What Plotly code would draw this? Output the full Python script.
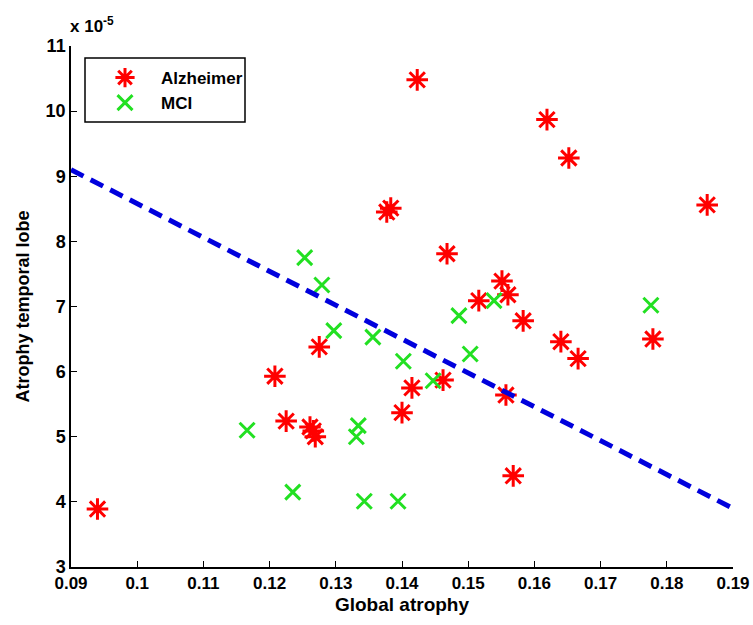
import plotly.graph_objects as go

# values of y in units of 1e-5
alz_x = [0.0940, 0.1423, 0.1619, 0.1652, 0.1861, 0.1377, 0.1383, 0.1468, 0.1551, 0.1560,
         0.1516, 0.1583, 0.1640, 0.1666, 0.1779, 0.1275, 0.1208, 0.1462, 0.1415, 0.1557,
         0.1400, 0.1225, 0.1261, 0.1266, 0.1269, 0.1568]
alz_y = [3.89, 10.48, 9.87, 9.28, 8.56, 8.45, 8.51, 7.81, 7.39, 7.18,
         7.09, 6.78, 6.46, 6.20, 6.50, 6.38, 5.93, 5.87, 5.75, 5.64,
         5.37, 5.24, 5.15, 5.09, 5.00, 4.40]
mci_x = [0.1166, 0.1235, 0.1334, 0.1331, 0.1343, 0.1297, 0.1279, 0.1253, 0.1356, 0.1486,
         0.1539, 0.1402, 0.1447, 0.1503, 0.1776, 0.1394]
mci_y = [5.10, 4.15, 5.17, 5.00, 4.01, 6.63, 7.33, 7.75, 6.53, 6.86,
         7.09, 6.16, 5.86, 6.27, 7.02, 4.01]
fit_x = [0.09, 0.19]
fit_y = [9.1, 3.9]
x_ticks = [0.09, 0.10, 0.11, 0.12, 0.13, 0.14, 0.15, 0.16, 0.17, 0.18, 0.19]
x_ticklabels = ["0.09", "0.1", "0.11", "0.12", "0.13", "0.14", "0.15", "0.16", "0.17", "0.18", "0.19"]
y_ticks = [3, 4, 5, 6, 7, 8, 9, 10, 11]

FONT = "Liberation Sans, Arial, sans-serif"

fig = go.Figure()
fig.add_trace(go.Scatter(
    x=alz_x, y=alz_y, mode="markers", name="Alzheimer",
    marker=dict(symbol="asterisk-open", size=18, color="#ff0000",
                line=dict(color="#ff0000", width=3))))
fig.add_trace(go.Scatter(
    x=mci_x, y=mci_y, mode="markers", name="MCI",
    marker=dict(symbol="x-thin-open", size=15, color="#22e022",
                line=dict(color="#22e022", width=3))))
fig.add_trace(go.Scatter(
    x=fit_x, y=fit_y, mode="lines", showlegend=False,
    line=dict(color="#0000dd", width=5, dash="14px,8px")))

fig.add_shape(type="rect", xref="paper", yref="paper",
              x0=(85 - 71) / 662, x1=(245 - 71) / 662,
              y0=(567 - 122) / 521, y1=(567 - 58) / 521,
              line=dict(color="black", width=1.5), fillcolor="white", layer="below")

fig.add_annotation(xref="paper", yref="paper", x=0, y=1, xanchor="left", yanchor="bottom",
                   yshift=8, xshift=-3, showarrow=False,
                   text="x 10<sup>-5</sup>", font=dict(family=FONT, size=17, color="black", weight="bold"))

fig.update_layout(
    width=753, height=625,
    margin=dict(l=71, r=20, t=46, b=58),
    paper_bgcolor="white", plot_bgcolor="white",
    showlegend=True,
    legend=dict(x=(89 - 71) / 662, y=(567 - 60) / 521, xanchor="left", yanchor="top",
                bgcolor="rgba(0,0,0,0)", borderwidth=0,
                font=dict(family=FONT, size=17, color="black", weight="bold"),
                tracegroupgap=0, itemwidth=62),
    font=dict(family=FONT, color="black"),
)
fig.update_xaxes(range=[0.09, 0.19], tickvals=x_ticks, ticktext=x_ticklabels, automargin=False,
                 ticks="inside", ticklen=6, tickcolor="black", showline=True, linecolor="black",
                 linewidth=1.5, showgrid=False, zeroline=False,
                 tickfont=dict(family=FONT, size=17, color="black", weight="bold"),
                 title=dict(text="Global atrophy", standoff=6,
                            font=dict(family=FONT, size=19, color="black", weight="bold")))
fig.update_yaxes(range=[3, 11], tickvals=y_ticks, automargin=False,
                 ticks="inside", ticklen=6, tickcolor="black", showline=True, linecolor="black",
                 linewidth=1.5, showgrid=False, zeroline=False,
                 tickfont=dict(family=FONT, size=18, color="black", weight="bold"),
                 title=dict(text="Atrophy temporal lobe", standoff=11,
                            font=dict(family=FONT, size=18, color="black", weight="bold")))

fig.write_html("out.html", config={"displayModeBar": False},
               post_script="document.body.style.margin='0';document.body.style.padding='0';"
                           "document.body.style.overflow='hidden';"
                           "document.documentElement.style.overflow='hidden';")
